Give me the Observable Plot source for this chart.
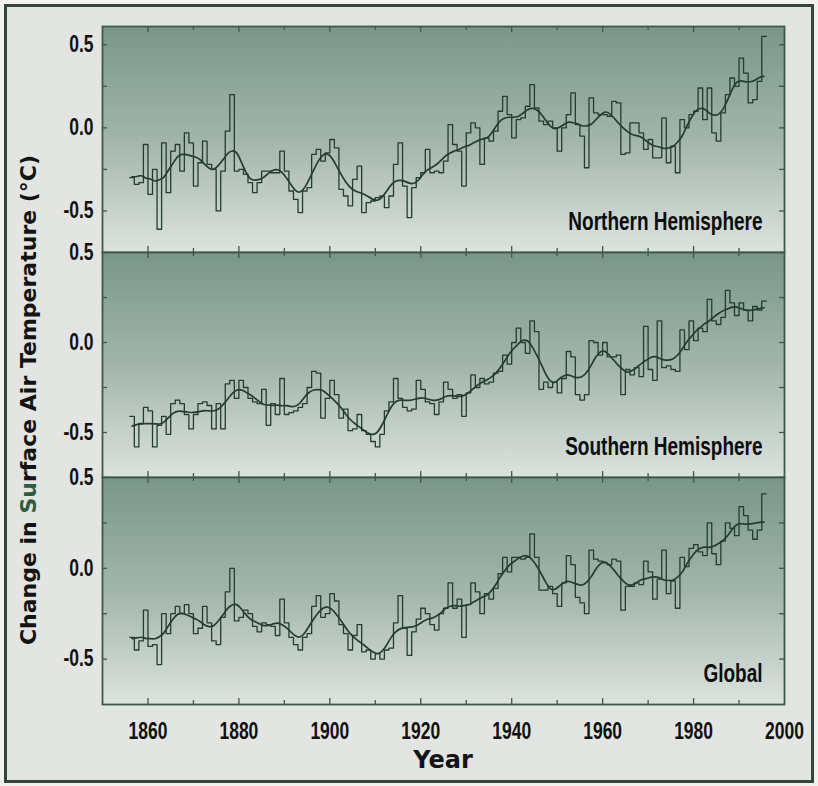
<!DOCTYPE html>
<html><head><meta charset="utf-8">
<script src="https://cdn.jsdelivr.net/npm/d3@7"></script>
<script src="https://cdn.jsdelivr.net/npm/@observablehq/plot@0.6"></script>
<style>
body{margin:0;background:#f1f2f0;width:818px;height:786px;overflow:hidden;position:relative}
#frame{position:absolute;left:4px;top:4px;width:804px;height:773px;border:3px solid #34453b;background:#e2e5e2}
.panel{position:absolute;left:0}
.ylab{position:absolute;left:28px;top:400px;transform:translate(-50%,-50%) rotate(-90deg);white-space:nowrap;font:bold 22px 'DejaVu Sans',sans-serif;color:#141414}
.ylab .g{color:#2f5c3f}
.xlab{position:absolute;left:443px;top:760px;transform:translate(-50%,-50%);font:bold 24px 'DejaVu Sans',sans-serif;color:#141414}
</style></head>
<body>
<div id="frame"></div>
<svg width="0" height="0" style="position:absolute"><defs>
<linearGradient id="pg" x1="0" y1="0" x2="0" y2="1">
<stop offset="0" stop-color="#7a968a"/><stop offset="0.5" stop-color="#a2b5ac"/><stop offset="1" stop-color="#dde3df"/>
</linearGradient></defs></svg>
<div id="p1" class="panel" style="top:26px"></div>
<div id="p2" class="panel" style="top:252px"></div>
<div id="p3" class="panel" style="top:477px"></div>
<div class="ylab">Change in <span class="g">Su</span>rface Air Temperature (°C)</div>
<div class="xlab">Year</div>
<script>
const years = d3.range(1856, 1996);
const northern = [
-0.30,-0.34,-0.33,-0.10,-0.40,-0.25,-0.61,-0.09,-0.39,-0.14,
-0.10,-0.26,-0.03,-0.09,-0.35,-0.21,-0.08,-0.22,-0.25,-0.50,
-0.26,-0.02,0.20,-0.26,-0.25,-0.28,-0.33,-0.39,-0.33,-0.26,
-0.26,-0.27,-0.27,-0.14,-0.26,-0.38,-0.43,-0.51,-0.38,-0.36,
-0.16,-0.13,-0.20,-0.15,-0.07,-0.12,-0.37,-0.41,-0.47,-0.31,
-0.23,-0.51,-0.45,-0.44,-0.42,-0.41,-0.48,-0.41,-0.22,-0.09,
-0.35,-0.54,-0.36,-0.30,-0.27,-0.13,-0.27,-0.26,-0.27,-0.20,
0.02,-0.10,-0.14,-0.35,-0.03,0.03,0.00,-0.22,-0.06,-0.08,
-0.02,0.10,0.19,0.08,-0.06,0.05,0.06,0.13,0.26,0.12,
0.04,0.02,0.04,0.00,-0.14,0.00,0.08,0.21,0.02,-0.05,
-0.24,0.18,0.09,0.08,0.08,0.07,0.16,0.15,-0.16,-0.15,
0.03,0.03,-0.03,-0.13,-0.07,-0.18,-0.18,0.06,-0.21,-0.11,
-0.27,0.05,0.00,0.08,0.10,0.24,0.05,0.24,-0.03,-0.08,
0.09,0.20,0.30,0.25,0.42,0.33,0.15,0.17,0.28,0.55];
const southern = [
-0.41,-0.58,-0.45,-0.36,-0.38,-0.58,-0.46,-0.41,-0.51,-0.34,
-0.32,-0.34,-0.40,-0.48,-0.40,-0.34,-0.33,-0.35,-0.48,-0.34,
-0.48,-0.23,-0.21,-0.31,-0.21,-0.25,-0.31,-0.33,-0.34,-0.26,
-0.46,-0.34,-0.40,-0.20,-0.40,-0.39,-0.38,-0.36,-0.34,-0.25,
-0.16,-0.17,-0.42,-0.31,-0.21,-0.29,-0.42,-0.37,-0.49,-0.48,
-0.40,-0.49,-0.51,-0.55,-0.58,-0.51,-0.38,-0.33,-0.20,-0.31,
-0.36,-0.38,-0.37,-0.21,-0.26,-0.33,-0.34,-0.40,-0.33,-0.22,
-0.26,-0.31,-0.29,-0.41,-0.28,-0.18,-0.25,-0.20,-0.23,-0.22,
-0.17,-0.16,-0.07,-0.12,0.00,0.08,0.00,-0.06,0.12,0.06,
-0.26,-0.22,-0.25,-0.22,-0.28,-0.20,-0.05,-0.08,-0.29,-0.32,
-0.29,0.01,0.00,-0.07,0.00,-0.08,-0.08,-0.07,-0.29,-0.15,
-0.18,-0.14,-0.19,0.09,-0.15,-0.21,0.12,-0.14,-0.13,-0.15,
-0.16,0.07,-0.04,0.12,0.01,0.08,0.06,0.24,0.12,0.10,
0.14,0.29,0.22,0.15,0.22,0.18,0.12,0.20,0.18,0.23];
const globalT = [
-0.38,-0.45,-0.40,-0.23,-0.43,-0.42,-0.53,-0.25,-0.36,-0.25,
-0.21,-0.25,-0.20,-0.25,-0.36,-0.33,-0.21,-0.30,-0.40,-0.42,
-0.27,-0.13,0.00,-0.29,-0.27,-0.23,-0.25,-0.32,-0.35,-0.30,
-0.31,-0.32,-0.37,-0.17,-0.30,-0.38,-0.42,-0.45,-0.38,-0.36,
-0.21,-0.15,-0.27,-0.25,-0.14,-0.18,-0.31,-0.36,-0.45,-0.37,
-0.31,-0.46,-0.45,-0.50,-0.47,-0.50,-0.45,-0.44,-0.30,-0.15,
-0.33,-0.48,-0.35,-0.28,-0.22,-0.25,-0.31,-0.34,-0.25,-0.22,
-0.08,-0.22,-0.17,-0.38,-0.20,-0.08,-0.13,-0.25,-0.14,-0.17,
-0.11,-0.03,0.06,-0.02,0.06,0.06,0.05,0.06,0.19,0.06,
-0.12,-0.12,-0.10,-0.14,-0.21,-0.08,0.07,0.02,-0.16,-0.19,
-0.25,0.10,0.05,0.04,0.03,0.02,0.05,0.04,-0.23,-0.10,
-0.10,-0.08,-0.09,0.04,-0.02,-0.17,-0.06,0.10,-0.14,-0.07,
-0.22,0.06,0.01,0.11,0.13,0.09,0.07,0.25,0.08,0.02,
0.15,0.25,0.22,0.18,0.34,0.29,0.21,0.16,0.21,0.41];
const xTickLabels = [1860,1880,1900,1920,1940,1960,1980,2000];
const xMajor = [1860,1880,1900,1920,1940,1960,1980];
const xMinor = [1870,1890,1910,1930,1950,1970,1990];
const yTickLabels = [-0.5,0,0.5];
const yTicks = [-0.5,-0.25,0,0.25,0.5];
const panelNames = ["Northern Hemisphere","Southern Hemisphere","Global"];

const lineColor = "#243d2c";
const edgeColor = "#3d594a";
const W = 818, ML = 102, MR = 34, IW = W - ML - MR;

function panel(el, vals, name, domain, h, withAxis) {
  const rows = years.map((yr, i) => ({year: yr, v: vals[i]}));
  const stepRows = rows.concat([{year: years[years.length - 1] + 1, v: vals[vals.length - 1]}]);
  const mb = withAxis ? 46 : 0;
  const yt = yTicks.filter(t => t >= domain[0] && t <= domain[1]);
  const plot = Plot.plot({
    width: W, height: h + mb,
    marginLeft: ML, marginRight: MR, marginTop: 0, marginBottom: mb,
    style: {background: "transparent", overflow: "visible", fontFamily: "'Liberation Sans', Arial, sans-serif", fontSize: "23px", fontWeight: "600", color: "#111"},
    x: withAxis
      ? {domain: [1850, 2000], ticks: xTickLabels, tickFormat: d => String(d), tickSize: 0, tickPadding: 18, label: null}
      : {domain: [1850, 2000], axis: null},
    y: {domain, ticks: yTickLabels, tickFormat: d => d.toFixed(1), tickSize: 0, tickPadding: 9, label: null},
    marks: [
      Plot.frame({fill: "url(#pg)"}),
      Plot.ruleX(xMajor, {x: d => d, stroke: edgeColor, strokeWidth: 1.3, insetBottom: h - 6}),
      Plot.ruleX(xMinor, {x: d => d, stroke: edgeColor, strokeWidth: 1.3, insetBottom: h - 4}),
      Plot.ruleX(xMajor, {x: d => d, stroke: edgeColor, strokeWidth: 1.3, insetTop: h - 6}),
      Plot.ruleX(xMinor, {x: d => d, stroke: edgeColor, strokeWidth: 1.3, insetTop: h - 4}),
      Plot.ruleY(yt, {y: d => d, stroke: edgeColor, strokeWidth: 1.3, insetRight: IW - 5}),
      Plot.ruleY(yt, {y: d => d, stroke: edgeColor, strokeWidth: 1.3, insetLeft: IW - 5}),
      Plot.line(stepRows, {x: "year", y: "v", curve: "step-after", stroke: lineColor, strokeWidth: 1.3}),
      Plot.line(rows, Plot.windowY({k: 3, reduce: "mean"}, Plot.windowY({k: 5, reduce: "mean"},
        {x: d => d.year + 0.5, y: "v", curve: "basis", stroke: lineColor, strokeWidth: 1.7}))),
      Plot.text([name], {text: d => d, frameAnchor: "bottom-right", textAnchor: "end", lineAnchor: "bottom",
        dx: -22, dy: -23, fontFamily: "'Liberation Sans', Arial, sans-serif", fontWeight: "bold", fontSize: 25, fill: "#0c0c0c"}),
      Plot.frame({stroke: edgeColor, strokeWidth: 1.8})
    ]
  });
  // condense text horizontally to mimic the condensed typeface
  d3.select(plot).selectAll("text").each(function() {
    const t = this.getAttribute("transform") || "";
    this.setAttribute("transform", (t + " scale(0.76,1)").trim());
  });
  document.getElementById(el).appendChild(plot);
}

panel("p1", northern, panelNames[0], [-0.75, 0.61], 226, false);
panel("p2", southern, panelNames[1], [-0.75, 0.5], 225, false);
panel("p3", globalT, panelNames[2], [-0.75, 0.5], 227, true);
</script>
</body></html>
